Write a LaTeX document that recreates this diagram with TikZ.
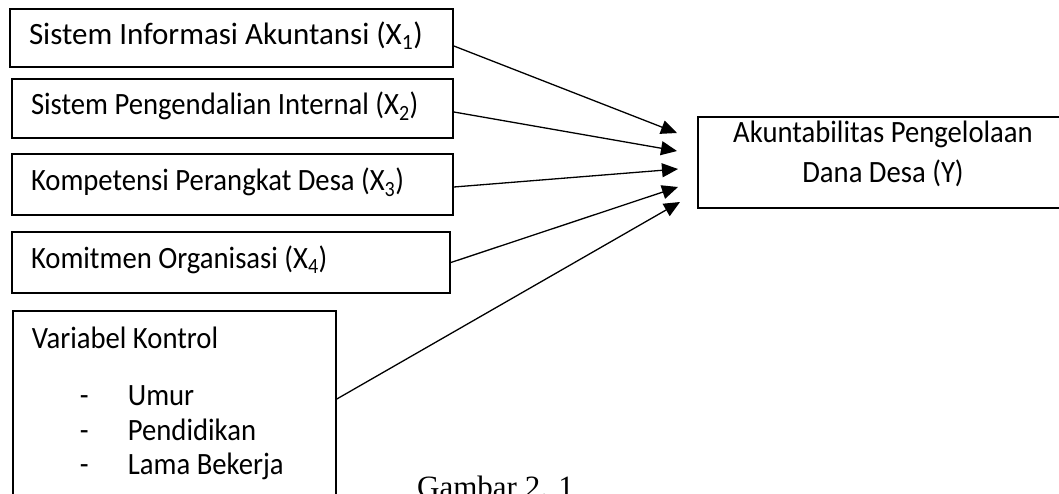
\documentclass[tikz,border=0pt]{standalone}
\usepackage{fontspec}
\setmainfont{Carlito}
\newfontfamily\tightfont[FakeStretch=0.925]{Carlito}
\newfontfamily\capfont{Liberation Serif}
\usetikzlibrary{arrows.meta}
\begin{document}
\begin{tikzpicture}[x=1pt,y=-1pt,
  varbox/.style={draw, line width=1.8pt, inner xsep=19pt, align=flush left, font=\tightfont\fontsize{31}{38}\selectfont},
  oneline/.style={varbox, inner ysep=0pt, text height=20pt, text depth=8pt},
  arr/.style={line width=1.3pt, -{Triangle[length=16pt,width=14pt]}}]
\useasboundingbox (0,0) rectangle (1059,493);
\clip (0,0) rectangle (1059,493);
\node[oneline, text width=405pt, minimum height=58pt, font=\rmfamily\fontsize{31}{38}\selectfont] (sia) at (231.5,38) {Sistem Informasi Akuntansi (X\textsubscript{1})};
\node[oneline, text width=403pt, minimum height=59pt] (spi) at (232.5,108.5) {Sistem Pengendalian Internal (X\textsubscript{2})};
\node[oneline, text width=403pt, minimum height=61pt] (kpd) at (232.5,184.5) {Kompetensi Perangkat Desa (X\textsubscript{3})};
\node[oneline, text width=400pt, minimum height=61pt] (ko) at (231,262.5) {Komitmen Organisasi (X\textsubscript{4})};
\node[varbox, anchor=north west, inner ysep=16pt, text width=285pt, font=\tightfont\fontsize{31}{34.5}\selectfont] (vk) at (12,310)
  {Variabel Kontrol\\[23pt]
   \hspace*{48pt}\makebox[48pt][l]{-}Umur\\
   \hspace*{48pt}\makebox[48pt][l]{-}Pendidikan\\
   \hspace*{48pt}\makebox[48pt][l]{-}Lama Bekerja};
\node[varbox, align=flush center, text width=332pt, minimum height=91pt, font=\tightfont\fontsize{31}{40}\selectfont] (apd) at (883,162.5)
  {Akuntabilitas Pengelolaan\\Dana Desa (Y)\rule[-21pt]{0pt}{1pt}};
\node[anchor=base west, inner sep=0pt, font=\capfont\fontsize{31}{38}\selectfont] (gbr) at (417,497.5) {Gambar 2. 1};
\coordinate (s1) at ([yshift=-8pt]sia.east);
\coordinate (s2) at ([yshift=-3.5pt]spi.east);
\coordinate (s3) at ([yshift=-2.5pt]kpd.east);
\coordinate (s4) at (ko.east);
\coordinate (s5) at ([yshift=-89pt]vk.north east);
\coordinate (t1) at (677,133);
\coordinate (t2) at (677,151);
\coordinate (t3) at (678,169);
\coordinate (t4) at (678,187);
\coordinate (t5) at (680,202);
\foreach \n in {1,...,5} \draw[arr] (s\n) -- (t\n);
\end{tikzpicture}
\end{document}
